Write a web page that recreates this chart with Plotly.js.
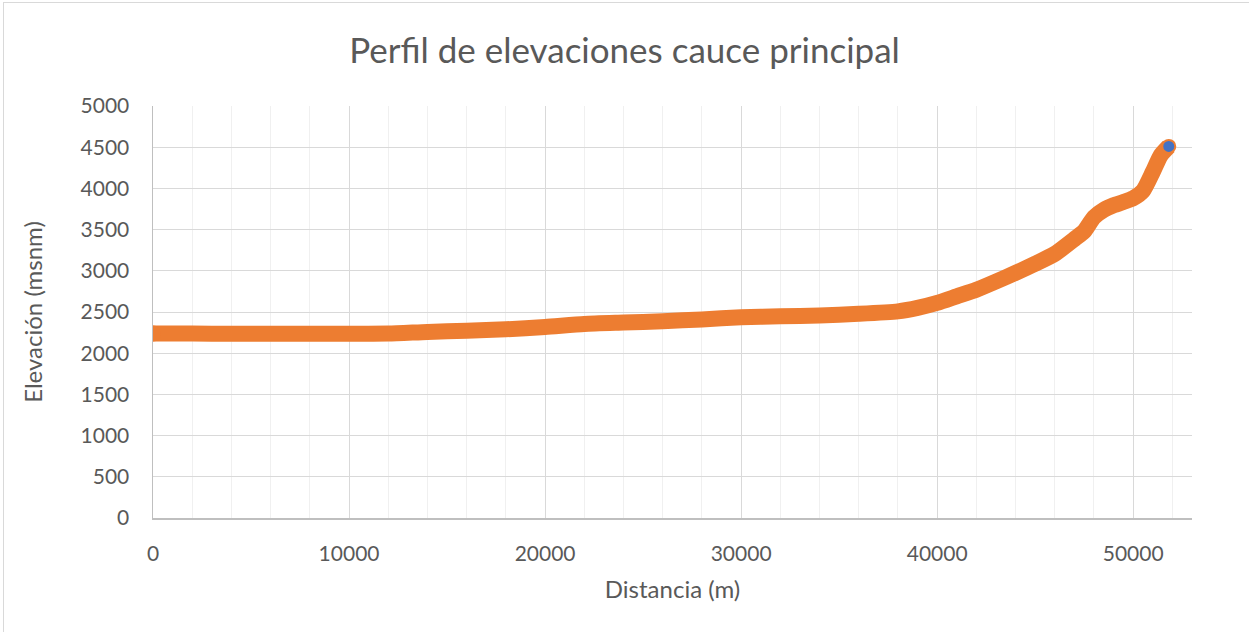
<!DOCTYPE html>
<html>
<head>
<meta charset="utf-8">
<script src="https://cdn.plot.ly/plotly-3.0.1.min.js"></script>
<style>
  html, body { margin: 0; padding: 0; background: #fff; }
  #chart { width: 1249px; height: 632px; }
  #frame { position: absolute; left: 3px; top: 2px; width: 1260px; height: 640px; border: 1px solid #d9d9d9; pointer-events: none; }
</style>
</head>
<body>
<div id="chart"></div>
<div id="frame"></div>
<script>
const distancia = [0, 2000, 4000, 6000, 8000, 10000, 12000, 14000, 16000, 18000, 20000, 22000, 24000, 26000, 28000, 30000, 32000, 34000, 36000, 38000, 39000, 40000, 41000, 42000, 43000, 44000, 45000, 46000, 47000, 47500, 48000, 48500, 49000, 49500, 50000, 50500, 51000, 51400, 51815];
const elevacion = [2238, 2238, 2237, 2236, 2236, 2236, 2238, 2258, 2272, 2290, 2318, 2355, 2372, 2388, 2410, 2435, 2447, 2458, 2478, 2508, 2550, 2610, 2690, 2770, 2870, 2975, 3085, 3205, 3385, 3480, 3650, 3740, 3795, 3835, 3880, 3970, 4200, 4400, 4510];
const puntoInicialX = [0];
const puntoInicialY = [2238];
const puntoFinalX = [51815];
const puntoFinalY = [4510];

const titulo = 'Perfil de elevaciones cauce principal';
const tituloX = 'Distancia (m)';
const tituloY = 'Elevación (msnm)';

const fontFam = 'Lato, "Open Sans", sans-serif';
const gray = '#595959';
const orange = '#ed7d31';

const traces = [
  {
    x: distancia, y: elevacion, type: 'scatter', mode: 'lines',
    line: { color: orange, width: 16, shape: 'spline', smoothing: 0.6 },
    hoverinfo: 'x+y', showlegend: false
  },
  {
    x: puntoInicialX, y: puntoInicialY, type: 'scatter', mode: 'markers',
    marker: { color: orange, size: 16, line: { width: 0 } },
    showlegend: false
  },
  {
    x: puntoFinalX, y: puntoFinalY, type: 'scatter', mode: 'markers',
    marker: { color: '#4472c4', size: 13, line: { color: orange, width: 2 } },
    showlegend: false
  }
];

const layout = {
  width: 1249, height: 632,
  margin: { l: 153, r: 57, t: 106, b: 114 },
  paper_bgcolor: 'rgba(0,0,0,0)', plot_bgcolor: '#fff',
  font: { family: fontFam, color: gray, size: 20 },
  title: { text: titulo, font: { family: fontFam, size: 35, color: gray }, x: 0.5, xanchor: 'center', y: 0.92, yanchor: 'middle' },
  xaxis: {
    range: [0, 53000], dtick: 10000, tick0: 0,
    showgrid: true, gridcolor: '#d9d9d9', gridwidth: 1,
    minor: { dtick: 2000, showgrid: true, gridcolor: '#f0f0f0', gridwidth: 1 },
    showline: true, linecolor: '#bfbfbf', linewidth: 1.5,
    ticks: 'outside', ticklen: 16, tickcolor: 'rgba(0,0,0,0)',
    zeroline: false, tickformat: 'd',
    tickfont: { size: 21, color: gray, family: fontFam },
    title: { text: tituloX, font: { size: 24, color: gray, family: fontFam }, standoff: 17 }
  },
  yaxis: {
    range: [0, 5000], dtick: 500, tick0: 0,
    showgrid: true, gridcolor: '#d9d9d9', gridwidth: 1,
    showline: true, linecolor: '#bfbfbf', linewidth: 1.5,
    ticks: 'outside', ticklen: 18, tickcolor: 'rgba(0,0,0,0)',
    zeroline: false, tickformat: 'd',
    tickfont: { size: 21, color: gray, family: fontFam },
    title: { text: tituloY, font: { size: 24, color: gray, family: fontFam }, standoff: 31 }
  }
};

Plotly.newPlot('chart', traces, layout, { displayModeBar: false, staticPlot: true });
</script>
</body>
</html>
